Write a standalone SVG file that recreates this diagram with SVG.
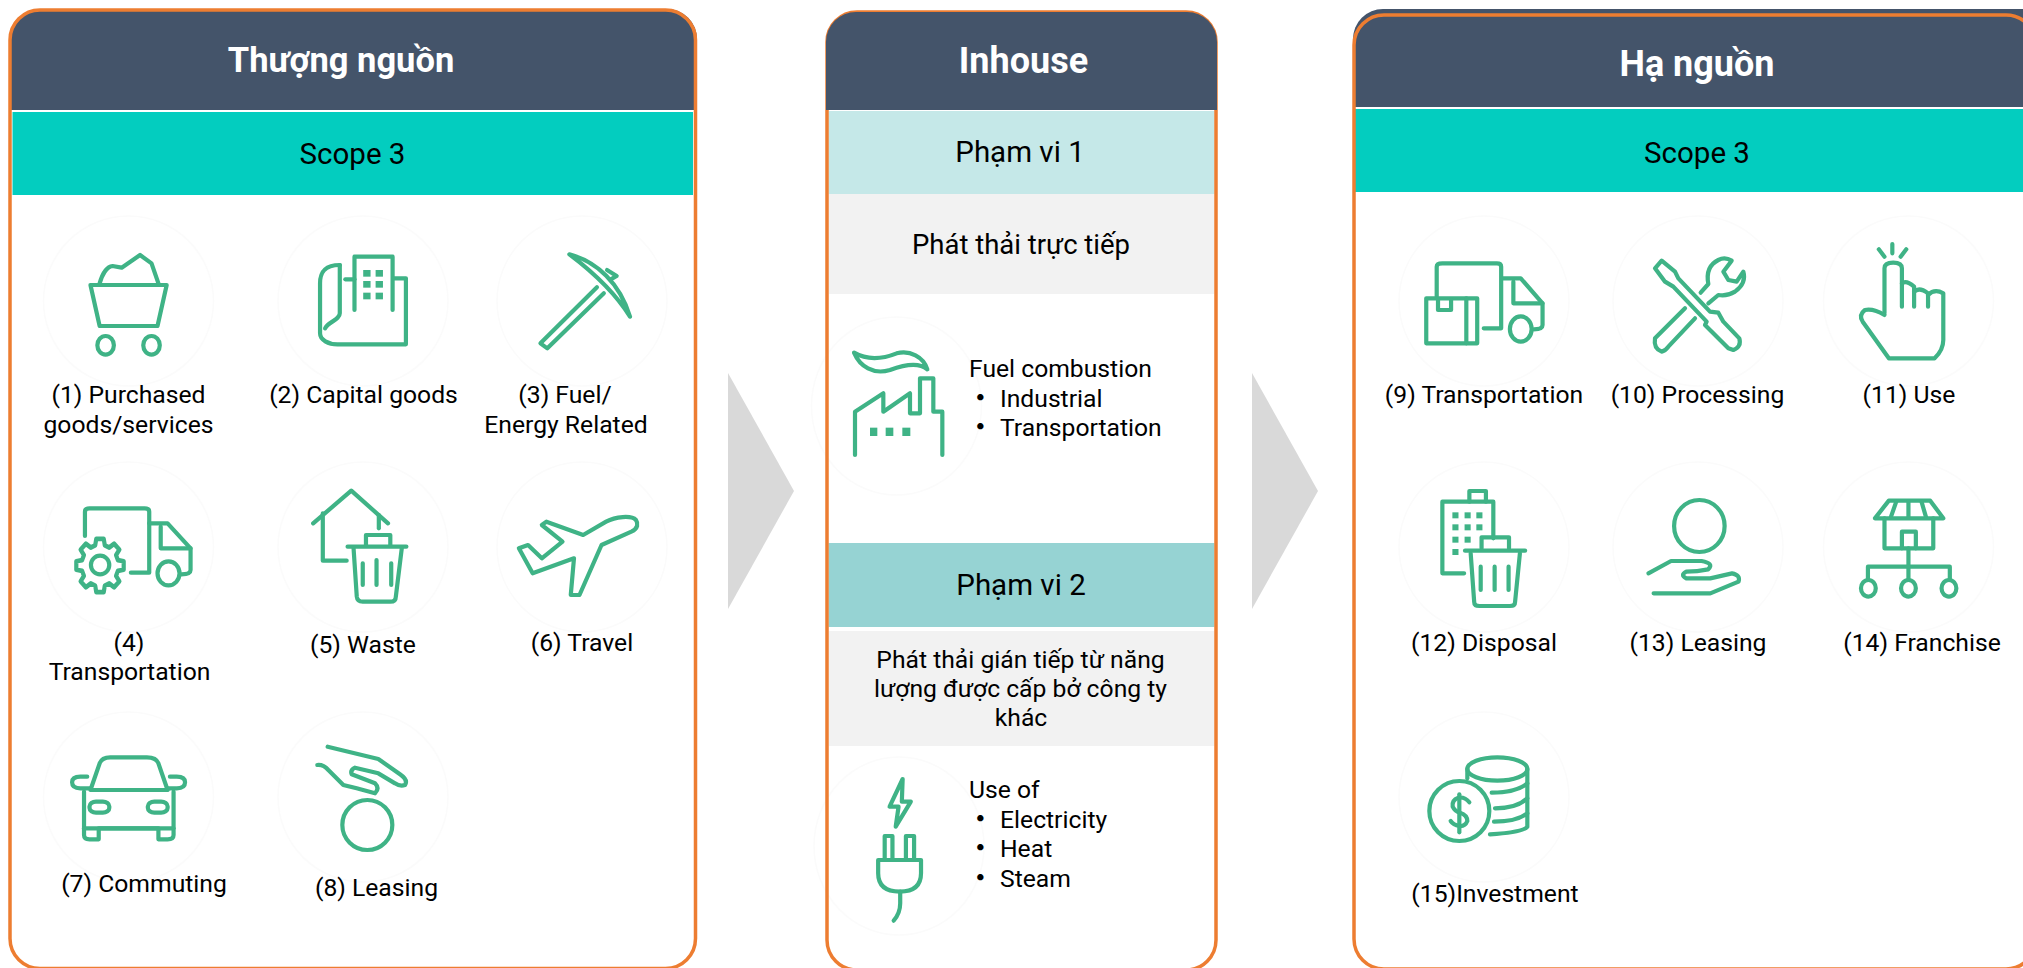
<svg xmlns="http://www.w3.org/2000/svg" xmlns:xlink="http://www.w3.org/1999/xlink" width="2023" height="968" viewBox="0 0 2023 968">
<style>
text{font-family:Roboto,"Noto Sans CJK SC",sans-serif;font-size:24.7px;fill:#000;text-anchor:middle}
text.l{text-anchor:start}
text.t{font-size:36px;font-weight:700;fill:#fff}
text.b{font-size:29.5px}
.dot{font-weight:700}
.h{fill:#44546a}
.o{fill:none;stroke:#ed7d31;stroke-width:3.5}
.teal{fill:#03cdbf}
.g{fill:#f2f2f2}
.c{fill:none;stroke:#fbfbfb;stroke-width:1.5}
.i path,.i ellipse,.i rect,.i use{fill:none;stroke:#3fb386;stroke-width:4.2;vector-effect:non-scaling-stroke;stroke-linecap:round;stroke-linejoin:round}
.i .f{fill:#3fb386;stroke:none}
.a{fill:#d9d9d9}
</style>
<defs>
<path id="gear" d="M-4.8-17.9L-3.75-23.7L3.75-23.7L4.8-17.9L9.26-16.05L14.1-19.4L19.4-14.1L16.05-9.26L17.9-4.8L23.7-3.75L23.7 3.75L17.9 4.8L16.05 9.26L19.4 14.1L14.1 19.4L9.26 16.05L4.8 17.9L3.75 23.7L-3.75 23.7L-4.8 17.9L-9.26 16.05L-14.1 19.4L-19.4 14.1L-16.05 9.26L-17.9 4.8L-23.7 3.75L-23.7-3.75L-17.9-4.8L-16.05-9.26L-19.4-14.1L-14.1-19.4L-9.26-16.05Z"/>
</defs>
<rect width="2023" height="968" fill="#fff"/>

<g id="connectors">
<path class="a" d="M728 373L794 491L728 609Z"/>
<path class="a" d="M1252 373L1318 491L1252 609Z"/>
</g>

<g id="upstream">
<path class="h" d="M10 110V39A30 30 0 0 1 40 9H667A30 30 0 0 1 697 39V110Z"/>
<rect class="teal" x="12.5" y="112" width="680.5" height="83"/>
<rect class="o" x="10" y="10" width="685.5" height="958.5" rx="30"/>
<text class="t" x="341" y="72" style="font-size:34.5px">Thượng nguồn</text>
<text class="b" x="352.5" y="164">Scope 3</text>
</g>

<g id="item1">
<ellipse class="c" cx="128.5" cy="301" rx="85" ry="85"/>
<g class="i" transform="scale(.45918 .33333)"><path d="M197 855H363L343 978H217Z"/><path d="M217 850C222 825 232 800 245 798L265 803L305 765L330 790L345 850"/><ellipse cx="230" cy="1036" rx="18" ry="28"/><ellipse cx="330" cy="1036" rx="18" ry="28"/></g>
<text x="128.5" y="403">(1) Purchased</text><text x="128.5" y="433">goods/services</text>
</g>
<g id="item2">
<ellipse class="c" cx="363" cy="301" rx="85" ry="85"/>
<g class="i" transform="scale(.45918 .33333)"><path d="M772 930V770H855V930"/><path d="M740 795C705 795 697 820 697 850V1000C697 1020 715 1033 735 1033H884V835H858"/><path d="M752 838H772"/><path d="M740 795V940C740 960 715 965 708 985"/>
<rect class="f" x="791" y="810" width="16" height="20"/><rect class="f" x="818" y="810" width="16" height="20"/><rect class="f" x="791" y="843" width="16" height="20"/><rect class="f" x="818" y="843" width="16" height="20"/><rect class="f" x="791" y="878" width="16" height="20"/><rect class="f" x="818" y="878" width="16" height="20"/></g>
<text x="363.5" y="403">(2) Capital goods</text>
</g>
<g id="item3">
<ellipse class="c" cx="582" cy="301" rx="85" ry="85"/>
<g class="i" transform="scale(.45918 .33333)"><path d="M1240 763C1300 785 1350 850 1372 950C1345 890 1295 820 1240 763Z"/><path d="M1322 810L1343 828L1330 838"/><path d="M1300 862L1177 1030L1192 1045L1315 880"/></g>
<text x="565" y="403">(3) Fuel/</text><text x="566" y="433">Energy Related</text>
</g>
<g id="item4">
<ellipse class="c" cx="128.5" cy="547" rx="85" ry="85"/>
<g class="i"><g transform="translate(0 480) scale(.45918 .33333)"><path d="M185 168V95Q185 85 195 85H315Q325 85 325 95V278H285"/><path d="M325 130H365L415 205V270Q415 283 395 283"/><path d="M350 140V205H415"/><ellipse cx="367" cy="280" rx="24" ry="36"/><ellipse cx="218" cy="255" rx="20" ry="28"/></g>
<use xlink:href="#gear" href="#gear" transform="translate(100 565.5) scale(1 1.12)"/></g>
<text x="129" y="651">(4)</text><text x="129.5" y="680">Transportation</text>
</g>
<g id="item5">
<ellipse class="c" cx="363" cy="547" rx="85" ry="85"/>
<g class="i" transform="translate(0 480) scale(.45918 .33333)"><path d="M682 130L765 32L845 130"/><path d="M703 100V242H755"/><path d="M825 105V145"/><path d="M757 200H885"/><path d="M797 195V165H850V195"/><path d="M770 205L777 350Q778 365 790 365H850Q862 365 862 350L875 205"/><path d="M790 250V315M820 240V315M852 250V315"/></g>
<text x="363" y="653">(5) Waste</text>
</g>
<g id="item6">
<ellipse class="c" cx="582" cy="547" rx="85" ry="85"/>
<g class="i" transform="translate(0 480) scale(.45918 .33333)"><path d="M1385 120C1375 105 1340 110 1320 125L1270 165L1190 125L1180 135L1225 185L1180 235L1150 195L1130 205L1160 280L1250 235L1243 345L1262 345L1310 195L1375 155C1390 145 1390 130 1385 120Z"/></g>
<text x="582" y="651">(6) Travel</text>
</g>
<g id="item7">
<ellipse class="c" cx="128.5" cy="797" rx="85" ry="85"/>
<g class="i" transform="translate(0 480) scale(.45918 .33333)"><path d="M197 930L217 850Q222 832 240 832H320Q340 832 345 850L365 930Z"/><path d="M183 935V1065Q183 1078 195 1078H215V1045H345V1078H365Q378 1078 378 1065V935"/><path d="M183 1045H378"/><path d="M197 925H175Q157 925 157 907Q157 890 175 890H190"/><path d="M365 925H385Q403 925 403 907Q403 890 385 890H370"/><rect x="195" y="965" width="43" height="33" rx="14" ry="14"/><rect x="322" y="965" width="43" height="33" rx="14" ry="14"/></g>
<text x="144" y="892">(7) Commuting</text>
</g>
<g id="item8">
<ellipse class="c" cx="363" cy="797" rx="85" ry="85"/>
<g class="i" transform="translate(300 735) scale(.33333)"><path d="M83 35L235 72L300 118Q325 135 315 150Q300 155 285 145L235 115L165 98Q150 105 155 118L225 145Q240 160 225 175L170 160L130 150L85 105Q70 88 52 90"/><ellipse cx="202" cy="270" rx="75" ry="75"/></g>
<text x="376.5" y="896">(8) Leasing</text>
</g>

<g id="scope1">
<rect x="828.5" y="111" width="386" height="83" fill="#c5e8e8"/>
<text class="b" x="1020" y="162">Phạm vi 1</text>
<rect class="g" x="828.5" y="194" width="386" height="100"/>
<text x="1021" y="254" style="font-size:27.5px">Phát thải trực tiếp</text>
<ellipse class="c" cx="896.5" cy="406" rx="85" ry="89"/>
<g class="i" transform="translate(840 340) scale(.33333)"><path d="M42 38C80 60 120 60 170 40C210 30 250 50 262 88C235 65 190 75 150 90C100 105 60 80 42 38Z"/><path d="M45 345V215L130 160V215L210 160V220H240V115H280V215H307V345"/><rect class="f" x="90" y="263" width="22" height="25"/><rect class="f" x="137" y="263" width="23" height="25"/><rect class="f" x="187" y="263" width="24" height="25"/></g>
<text class="l" x="969" y="377">Fuel combustion</text>
<text class="l" x="968" y="407"><tspan class="dot">・</tspan><tspan x="1000">Industrial</tspan></text>
<text class="l" x="968" y="436"><tspan class="dot">・</tspan><tspan x="1000">Transportation</tspan></text>
</g>
<g id="scope2">
<rect x="828.5" y="543" width="386" height="84" fill="#96d3d3"/>
<text class="b" x="1021" y="595">Phạm vi 2</text>
<rect class="g" x="828.5" y="631" width="386" height="115"/>
<text x="1020.5" y="668">Phát thải gián tiếp từ năng</text>
<text x="1020.5" y="697">lượng được cấp bở công ty</text>
<text x="1021" y="726">khác</text>
<ellipse class="c" cx="899" cy="846" rx="85" ry="89"/>
<g class="i" transform="translate(710 480) scale(.40816 .33333)"><path d="M472 897L440 980H462L455 1040L492 965H470Z"/><path d="M428 1135V1068H447V1135"/><path d="M480 1135V1068H500V1135"/><path d="M412 1140H517V1180Q517 1235 465 1235Q412 1235 412 1180Z"/><path d="M466 1235V1270Q466 1300 450 1322"/></g>
<text class="l" x="969" y="798">Use of</text>
<text class="l" x="968" y="828"><tspan class="dot">・</tspan><tspan x="1000">Electricity</tspan></text>
<text class="l" x="968" y="857"><tspan class="dot">・</tspan><tspan x="1000">Heat</tspan></text>
<text class="l" x="968" y="887"><tspan class="dot">・</tspan><tspan x="1000">Steam</tspan></text>
</g>
<g id="inhouse">
<rect class="o" x="827" y="12" width="389" height="958" rx="30"/>
<path class="h" d="M826 110V42A30 30 0 0 1 856 12H1187A30 30 0 0 1 1217 42V110Z"/>
<text class="t" x="1023.5" y="73">Inhouse</text>
</g>

<g id="downstream">
<path class="h" d="M1353 107V39A30 30 0 0 1 1383 9H2023V107Z"/>
<rect class="teal" x="1355" y="109" width="668" height="83"/>
<rect class="o" x="1354" y="15" width="682" height="954" rx="30"/>
<text class="t" x="1697" y="76">Hạ nguồn</text>
<text class="b" x="1697" y="163">Scope 3</text>
</g>
<g id="item9">
<ellipse class="c" cx="1484" cy="301" rx="85" ry="85"/>
<g class="i" transform="translate(1340 0) scale(.43559 .33333)"><path d="M222 890V800Q222 790 235 790H360Q370 790 370 800V985H330"/><path d="M372 835H415L465 910V975Q465 988 445 988"/><path d="M398 845V910H465"/><ellipse cx="415" cy="987" rx="25" ry="38"/><rect x="198" y="895" width="117" height="135"/><path d="M290 895V1030"/><path d="M225 898V930H255V898"/></g>
<text x="1484" y="403">(9) Transportation</text>
</g>
<g id="item10">
<ellipse class="c" cx="1698" cy="301" rx="85" ry="85"/>
<g class="i" transform="translate(1640 240) scale(.33333)"><path d="M45 85L65 62L105 95L115 115L210 215L235 218L250 245L298 295Q305 320 280 330L265 325L195 255L200 245L100 140L75 125Z"/><path d="M135 205L45 295Q40 325 65 335Q75 333 85 320L165 235"/><path d="M182 158L205 132Q195 80 235 60Q255 50 275 62L250 95L265 120L290 125L310 95Q320 130 285 155Q260 170 235 165L205 190"/></g>
<text x="1697.5" y="403">(10) Processing</text>
</g>
<g id="item11">
<ellipse class="c" cx="1908.5" cy="301" rx="85" ry="85"/>
<g class="i" transform="translate(1340 0) scale(.43559 .33333)"><path d="M1268 732V760M1237 748L1250 770M1300 748L1287 770"/><path d="M1250 940V805Q1250 788 1270 788Q1290 788 1290 805V920"/><path d="M1290 850Q1300 840 1318 860V920"/><path d="M1318 875Q1330 860 1350 880V920"/><path d="M1350 885Q1365 865 1385 880V1020Q1385 1050 1365 1075H1260L1200 965Q1190 945 1205 930Q1225 925 1250 945"/></g>
<text x="1909" y="403">(11) Use</text>
</g>
<g id="item12">
<ellipse class="c" cx="1484" cy="547" rx="85" ry="85"/>
<g class="i" transform="translate(1340 480) scale(.43559 .33333)"><path d="M352 175V65H235V280H285"/><path d="M297 65V33H335V65"/><path d="M287 212H425"/><path d="M325 205V172H388V205"/><path d="M300 220L308 365Q308 378 320 378H390Q402 378 402 365L413 220"/><path d="M323 260V330M355 260V330M387 260V330"/>
<rect class="f" x="258" y="97" width="14" height="18"/><rect class="f" x="286" y="97" width="14" height="18"/><rect class="f" x="313" y="97" width="14" height="18"/><rect class="f" x="258" y="133" width="14" height="18"/><rect class="f" x="286" y="133" width="14" height="18"/><rect class="f" x="313" y="133" width="14" height="18"/><rect class="f" x="258" y="170" width="14" height="18"/><rect class="f" x="286" y="170" width="14" height="18"/><rect class="f" x="258" y="207" width="14" height="18"/></g>
<text x="1484" y="651">(12) Disposal</text>
</g>
<g id="item13">
<ellipse class="c" cx="1698" cy="547" rx="85" ry="85"/>
<g class="i" transform="translate(1340 480) scale(.43559 .33333)"><ellipse cx="825" cy="138" rx="58" ry="78"/><path d="M708 280L760 243H830Q860 250 845 268Q820 275 795 275Q780 285 795 295H850L900 280Q920 285 915 305L850 340H720"/></g>
<text x="1698" y="651">(13) Leasing</text>
</g>
<g id="item14">
<ellipse class="c" cx="1908.5" cy="547" rx="85" ry="85"/>
<g class="i" transform="translate(1340 480) scale(.43559 .33333)"><path d="M1260 62H1355L1385 115H1228Z"/><path d="M1277 65L1265 110M1305 65V110M1335 65L1345 110"/><path d="M1250 115V205H1362V115"/><path d="M1290 205V155H1322V205"/><path d="M1305 205V300"/><path d="M1212 300V260H1400V300"/><ellipse cx="1213" cy="325" rx="17" ry="25"/><ellipse cx="1305" cy="325" rx="17" ry="25"/><ellipse cx="1398" cy="325" rx="17" ry="25"/></g>
<text x="1922" y="651">(14) Franchise</text>
</g>
<g id="item15">
<ellipse class="c" cx="1484" cy="797" rx="85" ry="85"/>
<g class="i" transform="translate(1420 745) scale(.33333)"><ellipse cx="118" cy="198" rx="90" ry="90"/><path d="M148 172Q135 155 115 158Q95 165 98 185Q105 200 120 203Q142 210 142 228Q135 245 118 243Q100 240 92 228"/><path d="M118 148V262"/><ellipse cx="232" cy="72" rx="90" ry="35"/><path d="M142 72V100"/><path d="M322 72V245Q310 262 210 268"/><path d="M215 143Q290 143 322 115"/><path d="M225 190Q290 190 322 160"/><path d="M222 230Q290 230 322 205"/></g>
<text x="1495" y="902">(15)Investment</text>
</g>
</svg>
